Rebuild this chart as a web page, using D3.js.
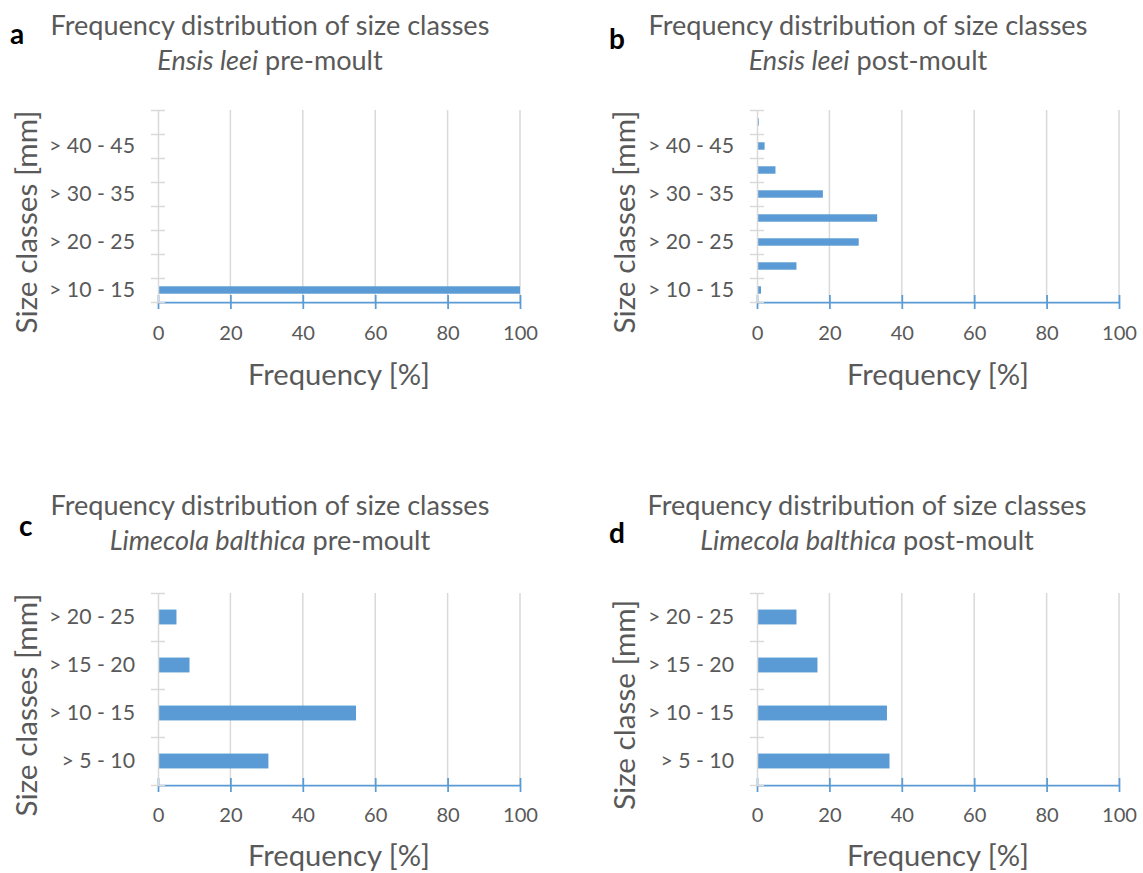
<!DOCTYPE html>
<html><head><meta charset="utf-8">
<script src="https://cdn.jsdelivr.net/npm/d3@7"></script>
<style>body{margin:0;background:#fff;} svg{display:block;}</style>
</head><body>
<svg id="chart" width="1143" height="873"></svg>
<script>
// ---- data ----
const ensisCategories = ["> 10 - 15", "> 15 - 20", "> 20 - 25", "> 25 - 30", "> 30 - 35", "> 35 - 40", "> 40 - 45", "> 45 - 50"];
const ensisPre  = [100, 0, 0, 0, 0, 0, 0, 0];
const ensisPost = [1.1, 10.9, 28.1, 33.2, 18.2, 5.1, 2.1, 0.5];
const limecolaCategories = ["> 5 - 10", "> 10 - 15", "> 15 - 20", "> 20 - 25"];
const limecolaPre  = [30.5, 54.7, 8.7, 5.1];
const limecolaPost = [36.6, 35.9, 16.7, 10.9];
const xTickValues = [0, 20, 40, 60, 80, 100];
const titleLine1 = "Frequency distribution of size classes";
const xAxisTitle = "Frequency [%]";

// ---- styles ----
const FONT = "Lato, 'Open Sans', sans-serif";
const TXT = "#595959", BLUE = "#5b9bd5", GRID = "#d9d9d9";
const svg = d3.select("#chart");

function fit(str, target, weight) {
  const t = svg.append("text").attr("font-family", FONT).attr("font-size", 100)
    .attr("font-weight", weight || "normal").text(str);
  const w = t.node().getComputedTextLength(); t.remove();
  return 100 * target / w;
}
const fsTitle = fit(titleLine1, 439);
const fsYTick = fit("> 10 - 15", 86);
const fsXTick = fit("100", 35);
const fsXTitle = fit(xAxisTitle, 182);
const fsYTitle = fit("Size classes [mm]", 223);

const panels = [
  {letter: "a", lx: 10, ly: 44, species: "Ensis leei", phase: "pre-moult", cats: ensisCategories, vals: ensisPre, every: 2,
   yTitle: "Size classes [mm]", left: 158, right: 520, top: 110, bottom: 302, tcx: 270, t1: 35, t2: 70, ytx: 37, yty: 222, xtb: 340, xtt: 385},
  {letter: "b", lx: 609, ly: 49, species: "Ensis leei", phase: "post-moult", cats: ensisCategories, vals: ensisPost, every: 2,
   yTitle: "Size classes [mm]", left: 757, right: 1119, top: 110, bottom: 302, tcx: 868, t1: 35, t2: 70, ytx: 635, yty: 222, xtb: 340, xtt: 385},
  {letter: "c", lx: 19, ly: 536, species: "Limecola balthica", phase: "pre-moult", cats: limecolaCategories, vals: limecolaPre, every: 1,
   yTitle: "Size classes [mm]", left: 158, right: 520, top: 593, bottom: 785, tcx: 270, t1: 515, t2: 550, ytx: 37, yty: 705, xtb: 822, xtt: 866},
  {letter: "d", lx: 609, ly: 543, species: "Limecola balthica", phase: "post-moult", cats: limecolaCategories, vals: limecolaPost, every: 1,
   yTitle: "Size classe [mm]", left: 757, right: 1119, top: 593, bottom: 785, tcx: 867, t1: 515, t2: 550, ytx: 635, yty: 705, xtb: 822, xtt: 866}
];

panels.forEach(p => {
  const g = svg.append("g");
  const x = d3.scaleLinear().domain([0, 100]).range([p.left, p.right]);
  const n = p.cats.length;
  const y = d3.scaleBand().domain(p.cats).range([p.bottom, p.top]).paddingInner(0.69).paddingOuter(0.345);
  const yB = d3.scaleLinear().domain([0, n]).range([p.bottom, p.top]);

  // letter
  g.append("text").attr("x", p.lx).attr("y", p.ly).attr("font-family", FONT)
    .attr("font-weight", "bold").attr("font-size", 28).attr("fill", "#000").text(p.letter);
  // titles
  g.append("text").attr("x", p.tcx).attr("y", p.t1).attr("text-anchor", "middle")
    .attr("font-family", FONT).attr("font-size", fsTitle).attr("fill", TXT).text(titleLine1);
  const t2 = g.append("text").attr("x", p.tcx).attr("y", p.t2).attr("text-anchor", "middle")
    .attr("font-family", FONT).attr("font-size", fsTitle).attr("fill", TXT);
  t2.append("tspan").attr("font-style", "italic").text(p.species);
  t2.append("tspan").text(" " + p.phase);

  // gridlines
  g.append("g").selectAll("line").data(xTickValues.filter(v => v > 0)).join("line")
    .attr("x1", d => x(d)).attr("x2", d => x(d)).attr("y1", p.top).attr("y2", p.bottom)
    .attr("stroke", GRID).attr("stroke-width", 1.5);

  // bars
  g.append("g").selectAll("rect").data(p.cats.map((c, i) => ({c, v: p.vals[i]})).filter(d => d.v > 0)).join("rect")
    .attr("x", x(0)).attr("y", d => y(d.c)).attr("width", d => x(d.v) - x(0)).attr("height", y.bandwidth())
    .attr("fill", BLUE);

  // x axis
  const xa = g.append("g").attr("transform", `translate(0,${p.bottom})`)
    .call(d3.axisBottom(x).tickValues(xTickValues).tickSizeInner(7).tickSizeOuter(0).tickPadding(0));
  xa.select(".domain").attr("stroke", BLUE).attr("stroke-width", 1.75);
  xa.selectAll(".tick line").attr("stroke", BLUE).attr("stroke-width", 1.75).attr("y1", -7).attr("y2", 7);
  xa.selectAll(".tick text").attr("y", p.xtb - p.bottom).attr("dy", 0).attr("fill", TXT)
    .attr("font-family", FONT).attr("font-size", fsXTick);

  // y axis (gray, ticks at category boundaries)
  const ya = g.append("g").attr("transform", `translate(${p.left},0)`)
    .call(d3.axisLeft(yB).tickValues(d3.range(n + 1)).tickFormat("").tickSizeInner(7).tickSizeOuter(0));
  ya.select(".domain").attr("stroke", GRID).attr("stroke-width", 1.5);
  ya.selectAll(".tick line").attr("stroke", GRID).attr("stroke-width", 1.5).attr("x1", 7).attr("x2", -7);

  // y labels
  const yl = g.append("g").attr("transform", `translate(${p.left - 23},0)`)
    .call(d3.axisLeft(y).tickSize(0).tickPadding(0).tickFormat((d, i) => i % p.every === 0 ? d : ""));
  yl.select(".domain").remove();
  yl.selectAll(".tick text").attr("fill", TXT).attr("font-family", FONT).attr("font-size", fsYTick);

  // axis titles
  g.append("text").attr("x", (p.left + p.right) / 2).attr("y", p.xtt).attr("text-anchor", "middle")
    .attr("font-family", FONT).attr("font-size", fsXTitle).attr("fill", TXT).text(xAxisTitle);
  g.append("text").attr("transform", `translate(${p.ytx},${p.yty}) rotate(-90)`).attr("text-anchor", "middle")
    .attr("font-family", FONT).attr("font-size", fsYTitle).attr("fill", TXT).text(p.yTitle);
});
</script>
</body></html>
